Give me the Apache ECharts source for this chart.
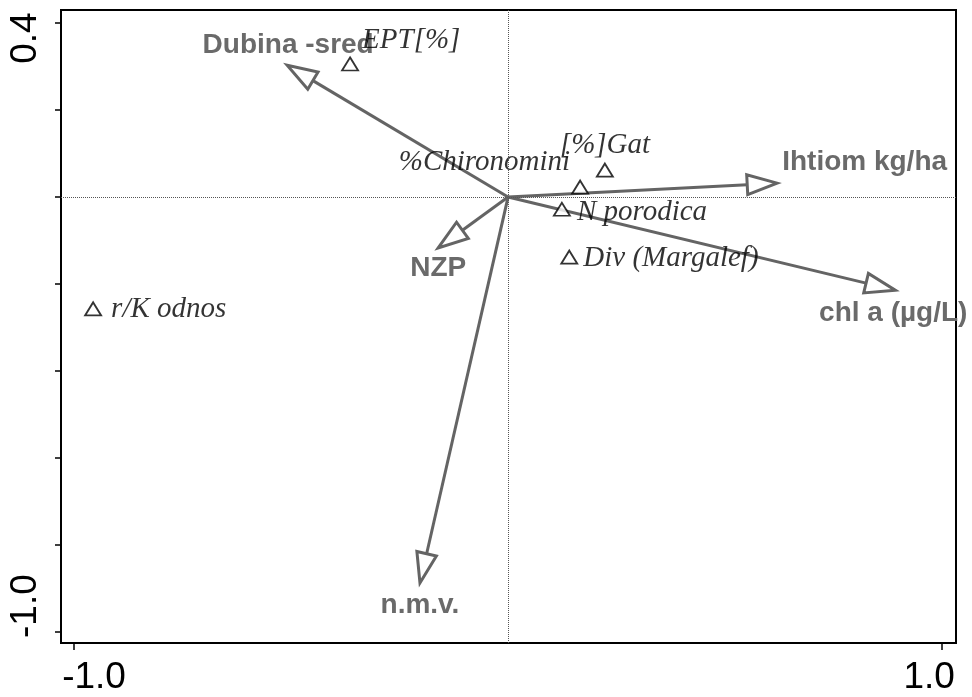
<!DOCTYPE html>
<html>
<head>
<meta charset="utf-8">
<script src="https://cdn.jsdelivr.net/npm/echarts@6/dist/echarts.min.js"></script>
<style>
html, body { margin: 0; padding: 0; background: #fff; }
#main { width: 972px; height: 697px; }
</style>
</head>
<body>
<div id="main"></div>
<script>
(function () {
    // environmental variables (arrows from origin)
    const envNames = ['Dubina -sred', 'Ihtiom kg/ha', 'chl a (µg/L)', 'NZP', 'n.m.v.'];
    const envX = [-0.509, 0.620, 0.892, -0.161, -0.203];
    const envY = [0.303, 0.032, -0.214, -0.117, -0.887];

    // species scores (triangles)
    const spNames = ['EPT[%]', '[%]Gat', '%Chironomini', 'N porodica', 'Div (Margalef)', 'r/K odnos'];
    const spX = [-0.364, 0.223, 0.166, 0.124, 0.141, -0.956];
    const spY = [0.306, 0.062, 0.023, -0.028, -0.138, -0.257];

    // axis ticks
    const xTickValues = [-1.0, 1.0];
    const xTickLabels = ['-1.0', '1.0'];
    const yTickValues = [0.4, 0.2, 0, -0.2, -0.4, -0.6, -0.8, -1.0];
    const yLabelValues = [0.4, -1.0];
    const yTickLabels = ['0.4', '-1.0'];

    // label placement (pixel offsets from the point / arrow tip)
    const envLabelPos = [[1, -20, 'center'], [5, -21, 'left'], [-2, 23, 'center'], [0, 20, 'center'], [0, 22, 'center']];
    const spLabelPos = [[12, -24, 'left'], [-45, -25, 'left'], [-10, -25, 'right'], [15, 3, 'left'], [14, 1, 'left'], [18, 0, 'left']];

    const arrowColor = '#646464';
    const labelGray = '#6a6a6a';
    const headLen = 30;
    const headHalf = 10;

    function renderArrow(params, api) {
        const i = api.value(2);
        const o = api.coord([0, 0]);
        const t = api.coord([api.value(0), api.value(1)]);
        const dx = t[0] - o[0], dy = t[1] - o[1];
        const len = Math.sqrt(dx * dx + dy * dy);
        const ux = dx / len, uy = dy / len;
        const bx = t[0] - ux * headLen, by = t[1] - uy * headLen;
        const px = -uy * headHalf, py = ux * headHalf;
        const lp = envLabelPos[i];
        return {
            type: 'group',
            children: [
                { type: 'line', shape: { x1: o[0], y1: o[1], x2: bx, y2: by },
                  style: { stroke: arrowColor, lineWidth: 3 } },
                { type: 'polygon', shape: { points: [[t[0], t[1]], [bx + px, by + py], [bx - px, by - py]] },
                  style: { fill: '#fff', stroke: arrowColor, lineWidth: 3, lineJoin: 'miter' } },
                { type: 'text', x: t[0] + lp[0], y: t[1] + lp[1],
                  style: { text: envNames[i], fill: labelGray, fontSize: 28, fontWeight: 'bold',
                           fontFamily: 'Liberation Sans', align: lp[2], verticalAlign: 'middle' } }
            ]
        };
    }

    const option = {
        animation: false,
        backgroundColor: '#fff',
        grid: {
            left: 61, right: 16, top: 10, bottom: 54,
            show: true, borderColor: '#000', borderWidth: 2, backgroundColor: 'transparent'
        },
        xAxis: {
            type: 'value',
            min: -1.03, max: 1.032,
            axisLine: { show: false, onZero: false },
            splitLine: { show: false },
            axisTick: { show: true, length: 7, customValues: xTickValues, lineStyle: { color: '#000', width: 1.5 } },
            axisLabel: {
                customValues: xTickValues,
                margin: 35,
                verticalAlign: 'middle',
                fontSize: 37, fontFamily: 'Liberation Sans', color: '#000',
                formatter: function (v) {
                    const i = xTickValues.indexOf(v);
                    return i === 0 ? '{l|' + xTickLabels[i] + '}' : '{r|' + xTickLabels[i] + '}';
                },
                rich: { l: { padding: [0, 0, 0, 40] }, r: { padding: [0, 26, 0, 0] } }
            }
        },
        yAxis: {
            type: 'value',
            min: -1.025, max: 0.43,
            axisLine: { show: false, onZero: false },
            splitLine: { show: false },
            axisTick: { show: true, length: 6, customValues: yTickValues, lineStyle: { color: '#000', width: 1.5 } },
            axisLabel: {
                customValues: yLabelValues,
                rotate: 90,
                margin: 35,
                align: 'center',
                verticalAlign: 'middle',
                fontSize: 37, fontFamily: 'Liberation Sans', color: '#000',
                formatter: function (v) {
                    const i = yLabelValues.indexOf(v);
                    return i === 0 ? '{t|' + yTickLabels[i] + '}' : '{b|' + yTickLabels[i] + '}';
                },
                rich: { t: { padding: [0, 30, 0, 0] }, b: { padding: [0, 0, 0, 52] } }
            }
        },
        series: [
            {
                type: 'line',
                data: [],
                z: 1,
                markLine: {
                    silent: true,
                    symbol: 'none',
                    label: { show: false },
                    lineStyle: { type: [1, 1], color: '#555', width: 1 },
                    data: [{ xAxis: 0 }, { yAxis: 0 }]
                }
            },
            {
                type: 'custom',
                z: 2,
                clip: false,
                renderItem: renderArrow,
                data: envX.map(function (x, i) { return [x, envY[i], i]; })
            },
            {
                type: 'scatter',
                z: 3,
                symbol: 'triangle',
                symbolSize: [16, 13],
                itemStyle: { color: '#fff', borderColor: '#000', borderWidth: 1.8 },
                data: spX.map(function (x, i) {
                    const lp = spLabelPos[i];
                    return {
                        name: spNames[i],
                        value: [x, spY[i]],
                        label: { offset: [lp[0], lp[1]], align: lp[2] }
                    };
                }),
                label: {
                    show: true,
                    position: 'inside',
                    verticalAlign: 'middle',
                    formatter: '{b}',
                    fontFamily: 'Liberation Serif',
                    fontStyle: 'italic',
                    fontSize: 29,
                    color: '#000',
                    textBorderWidth: 0
                }
            }
        ]
    };

    const myChart = echarts.init(document.getElementById('main'));
    myChart.setOption(option);
}());
</script>
</body>
</html>
